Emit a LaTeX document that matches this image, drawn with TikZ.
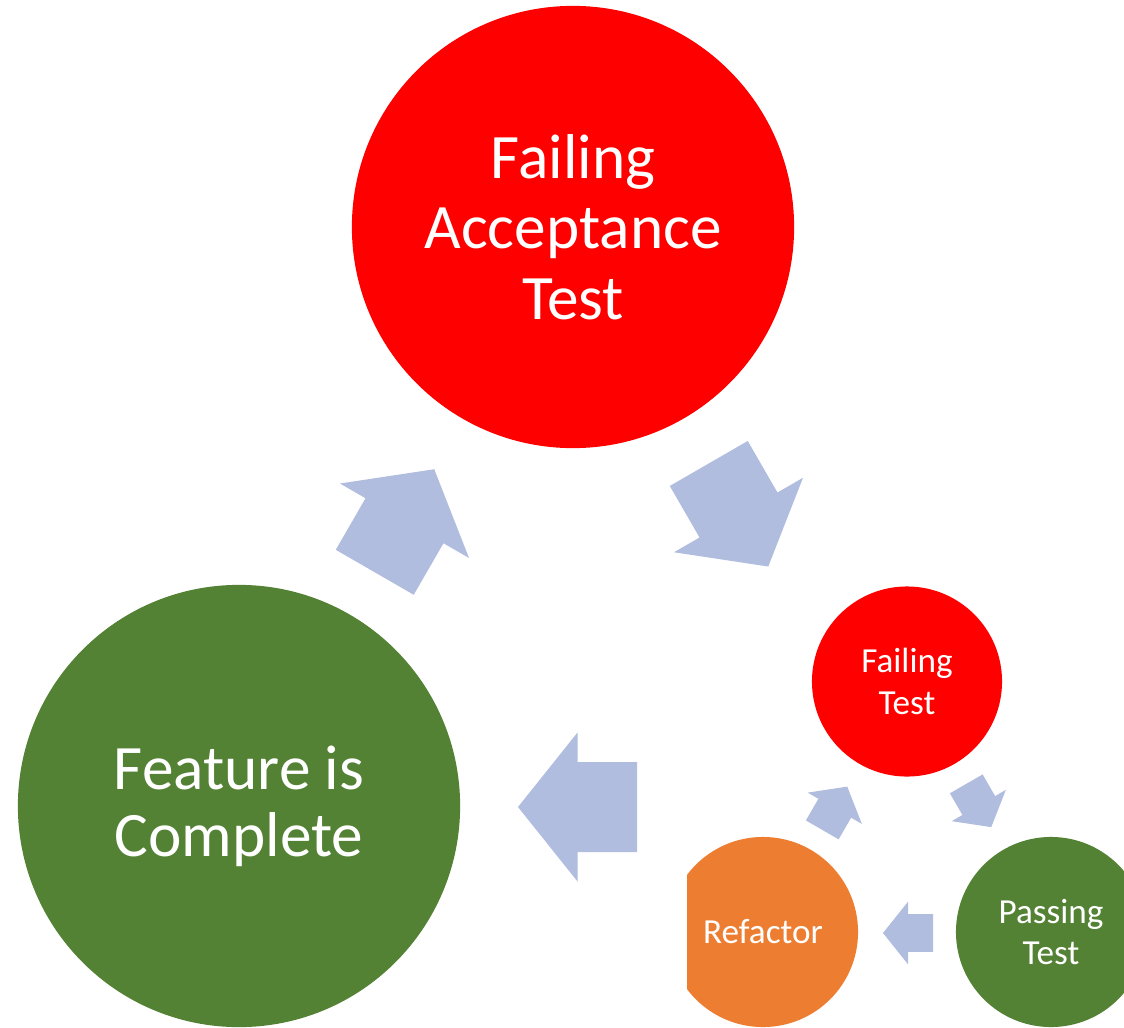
\documentclass[tikz,border=0pt]{standalone}
\usepackage{fontspec}
\setmainfont{Carlito}
\definecolor{failred}{RGB}{255,0,0}
\definecolor{passgreen}{RGB}{84,130,53}
\definecolor{refactororange}{RGB}{237,125,49}
\definecolor{arrowblue}{RGB}{176,189,222}

\begin{document}
\begin{tikzpicture}[x=0.01cm, y=0.01cm,
    big/.style={circle, inner sep=0pt, minimum size=4.42cm, text=white, align=center, font=\fontsize{18}{20}\selectfont},
    small/.style={circle, inner sep=0pt, minimum size=1.9cm, text=white, align=center, font=\fontsize{10}{11.9}\selectfont},
    blockarrow/.pic={\fill[arrowblue] (-59.5,45) -- (0,45) -- (0,74.5) -- (59.5,0) -- (0,-74.5) -- (0,-45) -- (-59.5,-45) -- cycle;}
    ]
    \useasboundingbox (0,0) rectangle (1124,-1027);
    \node[big, fill=failred] (fat) at (573,-227) {Failing\\Acceptance\\Test};
    \node[big, fill=passgreen, font=\fontsize{18}{19}\selectfont] (done) at (239,-806) {Feature is\\Complete};
    \pic[rotate=60] at (404.5,-520.75) {blockarrow};
    \pic[rotate=-60] at (738.5,-515) {blockarrow};
    \pic[rotate=180] at (577.5,-807) {blockarrow};
    \begin{scope}
      \clip (687,-570) rectangle (1124,-1027);
      \node[small, fill=failred] (ft) at (907,-681.5) {Failing\\Test};
      \node[small, fill=passgreen] (pt) at (1051,-932) {Passing\\Test};
      \node[small, fill=refactororange] (rf) at (763,-932) {Refactor};
      \pic[scale=0.42, rotate=60] at (834.75,-808.25) {blockarrow};
      \pic[scale=0.42, rotate=-60] at (978.75,-805.5) {blockarrow};
      \pic[scale=0.42, rotate=180] at (908,-933) {blockarrow};
    \end{scope}
\end{tikzpicture}
\end{document}
